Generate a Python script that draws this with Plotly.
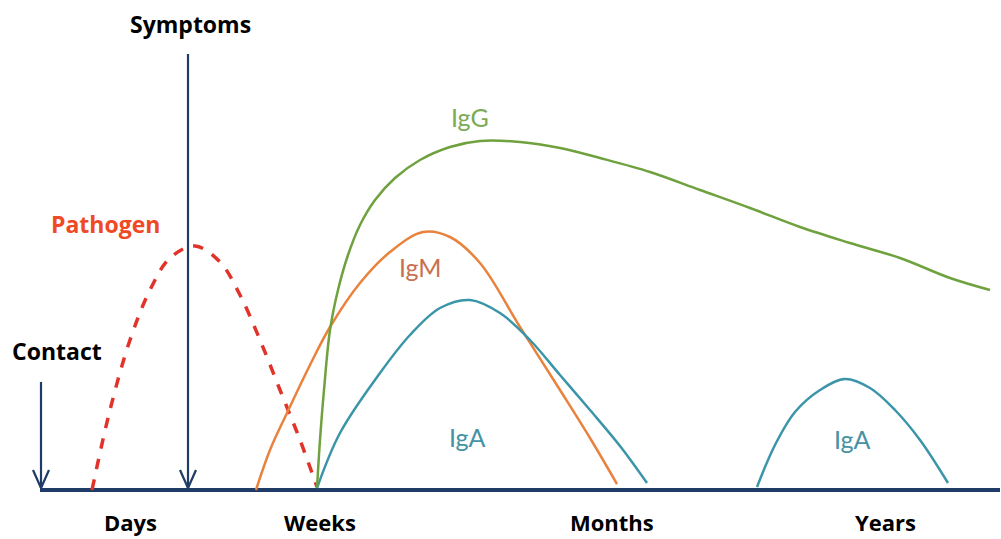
import plotly.graph_objects as go

# Time axis in schematic units (0..1001), level = height above the baseline
BASE_Y = 490  # baseline row in the picture (used only to convert read levels)

pathogen_t = [92, 110, 130, 150, 170, 195, 220, 240, 260, 280, 300, 317]
pathogen_v = [0, 80, 150, 200, 232, 244, 228, 195, 150, 100, 50, 3]

igm_t = [256, 270, 287, 310, 330, 360, 390, 423, 450, 480, 520, 560, 590, 617]
igm_v = [0, 40, 77, 125, 163, 207, 238, 258, 253, 227, 163, 100, 52, 6]

igg_t = [317, 320, 324, 330, 338, 348, 360, 375, 395, 420, 450, 480, 520, 560, 600,
         650, 700, 750, 800, 850, 900, 950, 990]
igg_v = [2, 50, 100, 160, 200, 235, 265, 290, 312, 330, 343, 349, 348, 342, 332,
         318, 300, 282, 263, 247, 232, 212, 200]

iga1_t = [317, 340, 380, 410, 440, 470, 500, 530, 560, 590, 620, 647]
iga1_v = [2, 57, 117, 155, 182, 190, 177, 150, 115, 80, 44, 7]

iga2_t = [757, 775, 795, 820, 845, 870, 895, 920, 948]
iga2_v = [3, 45, 78, 100, 111, 102, 80, 50, 7]

axis_start, axis_end = 40, 1000
contact_t, contact_top = 41, 108
symptoms_t, symptoms_top = 188, 436

time_labels = ["Days", "Weeks", "Months", "Years"]
time_label_t = [130, 320, 612, 885]

NAVY = "#1f3b68"
RED = "#e2332a"
ORANGE = "#e8823c"
GREEN = "#6fa23e"
TEAL = "#3b95a9"

fig = go.Figure()

# baseline
fig.add_trace(go.Scatter(x=[axis_start, axis_end], y=[0, 0], mode="lines",
                         line=dict(color=NAVY, width=4), hoverinfo="skip"))

def arrow(t, top):
    fig.add_trace(go.Scatter(x=[t, t], y=[top, 2], mode="lines",
                             line=dict(color=NAVY, width=2.2), hoverinfo="skip"))
    fig.add_trace(go.Scatter(x=[t - 8, t, t + 8], y=[20, 2, 20], mode="lines",
                             line=dict(color=NAVY, width=2.2), hoverinfo="skip"))

arrow(contact_t, contact_top)
arrow(symptoms_t, symptoms_top)

fig.add_trace(go.Scatter(x=pathogen_t, y=pathogen_v, mode="lines",
                         line=dict(color=RED, width=3.5, dash="dash", shape="spline", smoothing=1.0),
                         hoverinfo="skip"))
fig.add_trace(go.Scatter(x=igm_t, y=igm_v, mode="lines",
                         line=dict(color=ORANGE, width=2.5, shape="spline", smoothing=1.0),
                         hoverinfo="skip"))
fig.add_trace(go.Scatter(x=iga1_t, y=iga1_v, mode="lines",
                         line=dict(color=TEAL, width=2.5, shape="spline", smoothing=1.0),
                         hoverinfo="skip"))
fig.add_trace(go.Scatter(x=iga2_t, y=iga2_v, mode="lines",
                         line=dict(color=TEAL, width=2.5, shape="spline", smoothing=1.0),
                         hoverinfo="skip"))
fig.add_trace(go.Scatter(x=igg_t, y=igg_v, mode="lines",
                         line=dict(color=GREEN, width=2.5, shape="spline", smoothing=1.0),
                         hoverinfo="skip"))

bold = dict(family="Open Sans", size=23, color="black")
bottom_bold = dict(family="Open Sans", size=22, color="black")
ig_font = dict(family="Lato", size=25)
annots = [
    dict(x=190, y=BASE_Y - 24, text="<b>Symptoms</b>", font=bold),
    dict(x=57, y=BASE_Y - 351, text="<b>Contact</b>", font=bold),
    dict(x=105, y=BASE_Y - 224, text="<b>Pathogen</b>", font=dict(bold, color="#f04a24")),
    dict(x=470, y=BASE_Y - 117, text="IgG", font=dict(ig_font, color="#7caa55")),
    dict(x=420, y=BASE_Y - 267, text="IgM", font=dict(ig_font, color="#c8714f")),
    dict(x=467, y=BASE_Y - 437, text="IgA", font=dict(ig_font, color="#4592a4")),
    dict(x=852, y=BASE_Y - 439, text="IgA", font=dict(ig_font, color="#4592a4")),
]
for lab, t in zip(time_labels, time_label_t):
    annots.append(dict(x=t, y=BASE_Y - 522, text=f"<b>{lab}</b>", font=bottom_bold))
for a in annots:
    fig.add_annotation(showarrow=False, xref="x", yref="y", xanchor="center", yanchor="middle", **a)

fig.update_layout(
    width=1001, height=539, margin=dict(l=0, r=0, t=0, b=0),
    paper_bgcolor="white", plot_bgcolor="white", showlegend=False,
    xaxis=dict(range=[0, 1001], visible=False, fixedrange=True),
    yaxis=dict(range=[BASE_Y - 539, BASE_Y], visible=False, fixedrange=True),
)
fig.write_html("out.html", config={"displayModeBar": False},
               post_script="document.body.style.margin='0';document.body.style.overflow='hidden';")
